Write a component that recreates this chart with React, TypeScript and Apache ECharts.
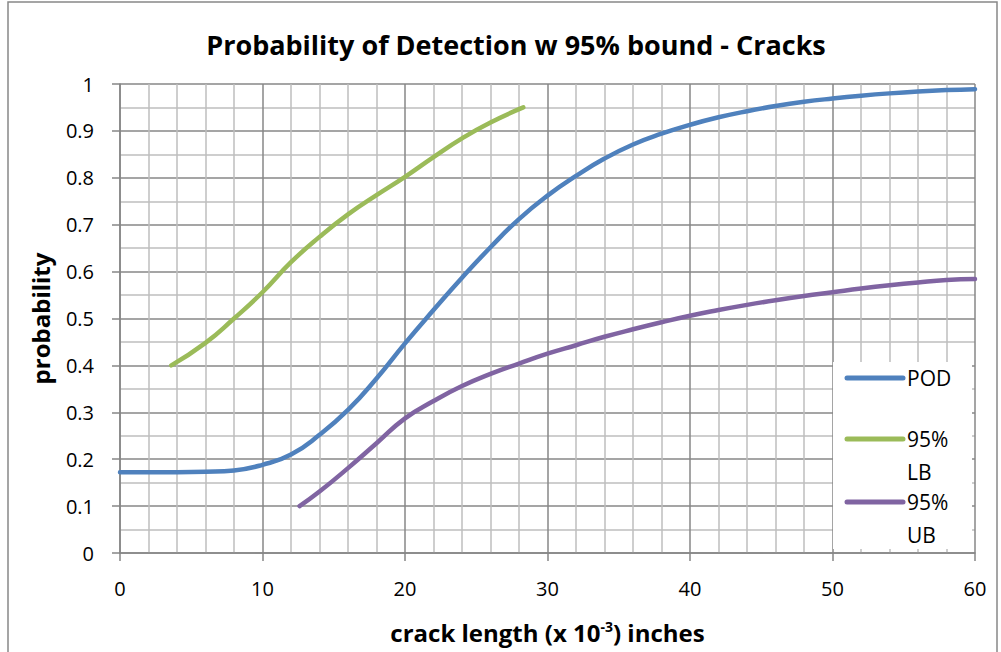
import React, { useEffect, useRef } from "react";
import * as echarts from "echarts";

// crack length (x 10^-3 in) and probability for each curve
const podCrack = [0, 2, 4, 6, 8, 10, 12, 14, 16, 18, 20, 22, 24, 26, 28, 30, 32, 34, 36, 38, 40, 42, 44, 46, 48, 50, 52, 54, 56, 58, 60];
const podProb = [0.172, 0.172, 0.172, 0.173, 0.176, 0.188, 0.21, 0.252, 0.305, 0.372, 0.447, 0.518, 0.587, 0.652, 0.712, 0.762, 0.804, 0.841, 0.871, 0.894, 0.913, 0.929, 0.942, 0.953, 0.962, 0.969, 0.975, 0.98, 0.984, 0.987, 0.989];

const lbCrack = [3.6, 6, 8, 10, 12, 14, 16, 18, 20, 22, 24, 26, 28.3];
const lbProb = [0.4, 0.448, 0.5, 0.556, 0.62, 0.674, 0.722, 0.763, 0.802, 0.844, 0.884, 0.918, 0.95];

const ubCrack = [12.6, 14, 16, 18, 20, 22, 24, 26, 28, 30, 32, 34, 36, 38, 40, 42, 44, 46, 48, 50, 52, 54, 56, 58, 60];
const ubProb = [0.1, 0.131, 0.181, 0.234, 0.287, 0.324, 0.356, 0.382, 0.404, 0.425, 0.443, 0.461, 0.477, 0.492, 0.506, 0.518, 0.529, 0.539, 0.548, 0.556, 0.564, 0.571, 0.577, 0.582, 0.584];

const seriesNames = ["POD", "95% LB", "95% UB"];
const seriesColors = ["#4F81BD", "#9BBB59", "#8064A2"];

const xTicks = { min: 0, max: 60, interval: 10 };
const yTicks = { min: 0, max: 1, interval: 0.1 };

const FONT = "'Open Sans', 'DejaVu Sans', sans-serif";

function zip(xs: number[], ys: number[]) {
  return xs.map((x, i) => [x, ys[i]]);
}

export default function App() {
  const ref = useRef<HTMLDivElement>(null);

  useEffect(() => {
    if (!ref.current) return;
    const chart = echarts.init(ref.current, null, { renderer: "svg" });

    const gridLeft = 120;
    const gridTop = 84;
    const gridRight = 26;
    const gridBottom = 99;

    const lineSeries = [
      zip(podCrack, podProb),
      zip(lbCrack, lbProb),
      zip(ubCrack, ubProb),
    ].map((data, i) => ({
      name: seriesNames[i],
      type: "line",
      data,
      smooth: 0.5,
      showSymbol: false,
      lineStyle: { color: seriesColors[i], width: 4.5, cap: "round", join: "round" },
      z: 3,
    }));

    // legend box drawn over the lower-right corner of the plot
    const legendX = 833;
    const legendY = 362;
    const lineX0 = 847;
    const lineX1 = 903;
    const textX = 907;
    const legendRows = [
      { y: 378, lines: ["POD"] },
      { y: 439, lines: ["95%", "LB"] },
      { y: 502, lines: ["95%", "UB"] },
    ];
    const legendGraphics: any[] = [
      {
        type: "rect",
        shape: { x: legendX, y: legendY, width: 139, height: 187 },
        style: { fill: "#ffffff" },
        z: 10,
      },
    ];
    legendRows.forEach((row, i) => {
      legendGraphics.push({
        type: "line",
        shape: { x1: lineX0, y1: row.y, x2: lineX1, y2: row.y },
        style: { stroke: seriesColors[i], lineWidth: 5, lineCap: "round" },
        z: 11,
      });
      row.lines.forEach((t, j) => {
        legendGraphics.push({
          type: "text",
          x: textX,
          y: row.y + j * 33,
          style: {
            text: t,
            fill: "#000000",
            font: `21px ${FONT}`,
            textVerticalAlign: "middle",
            textAlign: "left",
          },
          z: 11,
        });
      });
    });

    chart.setOption({
      animation: false,
      backgroundColor: "#ffffff",
      title: {
        text: "Probability of Detection w 95% bound - Cracks",
        left: 511,
        top: 26,
        textAlign: "center",
        textStyle: { fontFamily: FONT, fontSize: 27, fontWeight: "bold", color: "#000000" },
      },
      grid: { left: gridLeft, right: gridRight, top: gridTop, bottom: gridBottom },
      xAxis: {
        type: "value",
        min: xTicks.min,
        max: xTicks.max,
        interval: xTicks.interval,
        name: "{t|crack length (x 10}{s|-3}{t|) inches}",
        nameLocation: "middle",
        nameGap: 66,
        nameTextStyle: {
          rich: {
            t: { fontFamily: FONT, fontSize: 24, fontWeight: "bold", color: "#000000" },
            s: { fontFamily: FONT, fontSize: 14, fontWeight: "bold", color: "#000000", verticalAlign: "top", padding: [0, 0, 12, 0] },
          },
        },
        axisLine: { show: true, onZero: false, lineStyle: { color: "#868686", width: 1.5 } },
        axisTick: { show: true, inside: false, length: 8, lineStyle: { color: "#868686", width: 1.5 } },
        axisLabel: { margin: 25, fontFamily: FONT, fontSize: 20, color: "#000000" },
        splitLine: { show: true, lineStyle: { color: "#878787", width: 1.5 } },
        minorTick: { show: false, splitNumber: 5 },
        minorSplitLine: { show: true, lineStyle: { color: "#BEBEBE", width: 1.5 } },
      },
      yAxis: {
        type: "value",
        min: yTicks.min,
        max: yTicks.max,
        interval: yTicks.interval,
        name: "probability",
        nameLocation: "middle",
        nameGap: 68,
        nameRotate: 90,
        nameTextStyle: { fontFamily: FONT, fontSize: 24, fontWeight: "bold", color: "#000000" },
        axisLine: { show: true, onZero: false, lineStyle: { color: "#868686", width: 1.5 } },
        axisTick: { show: true, inside: false, length: 8, lineStyle: { color: "#868686", width: 1.5 } },
        axisLabel: {
          margin: 26,
          fontFamily: FONT,
          fontSize: 20,
          color: "#000000",
          formatter: (v: number) => String(Math.round(v * 10) / 10),
        },
        splitLine: { show: true, lineStyle: { color: "#878787", width: 1.5 } },
        minorTick: { show: false, splitNumber: 2 },
        minorSplitLine: { show: true, lineStyle: { color: "#BEBEBE", width: 1.5 } },
      },
      series: lineSeries,
      graphic: [
        {
          type: "rect",
          shape: { x: 8, y: 2, width: 989, height: 700 },
          style: { fill: "none", stroke: "#888888", lineWidth: 1.5 },
          silent: true,
          z: 0,
        },
        ...legendGraphics,
      ],
    });

    return () => chart.dispose();
  }, []);

  return (
    <div
      ref={ref}
      style={{ position: "fixed", left: 0, top: 0, width: 1001, height: 652 }}
    />
  );
}
